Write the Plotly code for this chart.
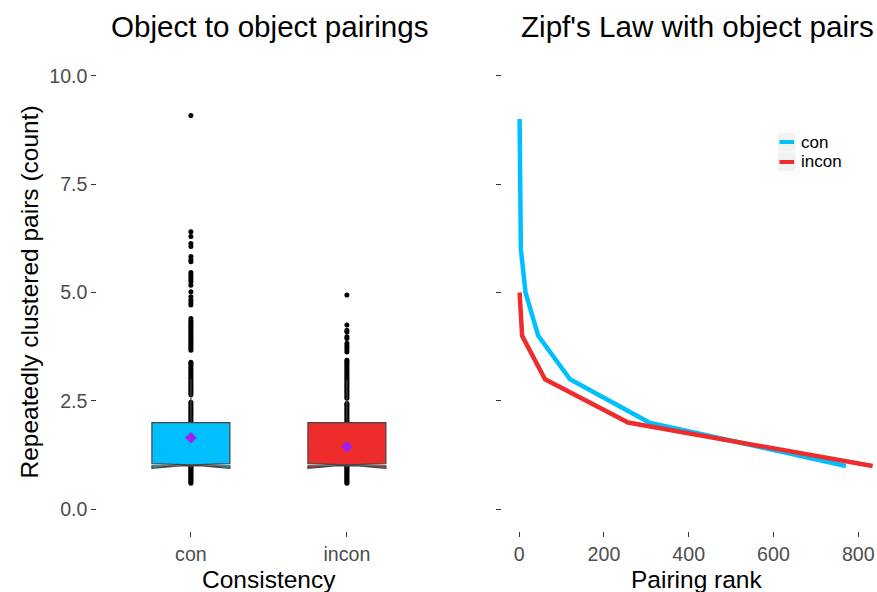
import plotly.graph_objects as go

# ---------------- data ----------------
categories = ["con", "incon"]
box_q1 = [1, 1]
box_median = [1, 1]
box_q3 = [2, 2]
box_lower = [1, 1]
box_upper = [3, 3]
box_notch = [0.055, 0.055]
group_means = [1.65, 1.44]

# jittered counts visible outside the boxes
con_points = [0.60, 0.63, 0.66, 0.69, 0.72, 0.75, 0.78, 0.81, 0.84, 0.87, 0.90, 0.93, 0.96, 0.99,
              2.03, 2.07, 2.11, 2.15, 2.19, 2.23, 2.27, 2.31, 2.35, 2.39, 2.43, 2.47,
              2.64, 2.68, 2.72, 2.76, 2.80, 2.84, 2.88, 2.92, 2.96, 3.00, 3.04, 3.08, 3.12,
              3.16, 3.20, 3.24, 3.28, 3.32, 3.36, 3.39,
              3.67, 3.71, 3.75, 3.79, 3.83, 3.87, 3.91, 3.95, 3.99, 4.03, 4.07, 4.11, 4.15,
              4.19, 4.23, 4.27, 4.31, 4.35, 4.40,
              4.71, 4.76, 4.82, 4.90, 5.02, 5.17, 5.25, 5.30, 5.35, 5.40, 5.46,
              5.71, 5.76, 5.83, 6.06, 6.13, 6.29, 6.40,
              9.08]
incon_points = [0.60, 0.63, 0.66, 0.69, 0.72, 0.75, 0.78, 0.81, 0.84, 0.87, 0.90, 0.93, 0.96, 0.99,
                2.02, 2.06, 2.10, 2.14, 2.18, 2.22, 2.26, 2.30, 2.34, 2.38, 2.42, 2.44,
                2.56, 2.60, 2.64, 2.68, 2.72, 2.76, 2.80, 2.84, 2.88, 2.92, 2.96, 3.00, 3.04,
                3.08, 3.12, 3.16, 3.20, 3.24, 3.28, 3.32, 3.36, 3.40, 3.44,
                3.63, 3.68, 3.73, 3.78, 3.83, 3.94, 3.98, 4.09, 4.13, 4.25,
                4.94]

# Zipf curves: pairing rank vs count
con_rank = [1, 4, 15, 45, 120, 307, 771]
con_count = [9, 6, 5, 4, 3, 2, 1]
incon_rank = [1, 7, 61, 257, 834]
incon_count = [5, 4, 3, 2, 1]

y_ticks = [0, 2.5, 5, 7.5, 10]
y_ticklabels = ["0.0", "2.5", "5.0", "7.5", "10.0"]
x2_ticks = [0, 200, 400, 600, 800]

colors = ["#00BFFF", "#EE2C2C"]
mean_color = "#A020F0"

# ---------------- layout helpers ----------------
W, H = 877, 592
T, B = 54, 61
PH = H - T - B
FONT = "Liberation Sans, Arial, sans-serif"


def fx(p):
    return p / W


def fy(p):
    return (H - B - p) / PH


fig = go.Figure()

# jittered points (underneath the boxes)
for i, pts in enumerate([con_points, incon_points]):
    fig.add_trace(go.Scatter(
        x=[i + 1] * len(pts), y=pts, mode="markers",
        marker=dict(color="black", size=5, line=dict(width=0)),
        xaxis="x", yaxis="y", showlegend=False, hoverinfo="skip"))

# boxes on an overlaying axis so they cover the points
for i, cat in enumerate(categories):
    fig.add_trace(go.Box(
        x=[i + 1], q1=[box_q1[i]], median=[box_median[i]], q3=[box_q3[i]],
        lowerfence=[box_lower[i]], upperfence=[box_upper[i]],
        notched=True, notchspan=[box_notch[i]], notchwidth=0.5,
        width=0.5, whiskerwidth=0, fillcolor=colors[i],
        line=dict(color="#444444", width=1.2), boxpoints=False,
        name=cat, xaxis="x", yaxis="y3", showlegend=False))

fig.add_trace(go.Scatter(
    x=[1, 2], y=group_means, mode="markers",
    marker=dict(symbol="diamond", color=mean_color, size=9, line=dict(width=0)),
    xaxis="x", yaxis="y3", showlegend=False, hoverinfo="skip"))

# Zipf lines
fig.add_trace(go.Scatter(x=con_rank, y=con_count, mode="lines",
                         line=dict(color=colors[0], width=4.5),
                         xaxis="x2", yaxis="y2", name="con", showlegend=False))
fig.add_trace(go.Scatter(x=incon_rank, y=incon_count, mode="lines",
                         line=dict(color=colors[1], width=4.5),
                         xaxis="x2", yaxis="y2", name="incon", showlegend=False))

axis_common = dict(showgrid=False, zeroline=False, showline=False,
                   ticks="outside", ticklen=5, tickwidth=1, tickcolor="#333333",
                   tickfont=dict(family=FONT, size=19.6, color="#4D4D4D"))

fig.update_layout(
    width=W, height=H,
    margin=dict(l=0, r=0, t=T, b=B, pad=0),
    paper_bgcolor="white", plot_bgcolor="white",
    font=dict(family=FONT, color="black"),
    xaxis=dict(domain=[fx(97.3), fx(440.5)], range=[0.4, 2.6],
               tickvals=[1, 2], ticktext=categories, anchor="y", **axis_common),
    yaxis=dict(domain=[0, 1], range=[-0.5, 10.5], tickvals=y_ticks,
               ticktext=y_ticklabels, anchor="x", **axis_common),
    yaxis3=dict(range=[-0.5, 10.5], overlaying="y", anchor="x", visible=False),
    xaxis2=dict(domain=[fx(501.7), 1], range=[-41.2, 844.3], tickvals=x2_ticks,
                anchor="y2", **axis_common),
    yaxis2=dict(domain=[0, 1], range=[-0.5, 10.5], tickvals=y_ticks,
                showticklabels=False, anchor="x2", **axis_common),
    showlegend=False,
)

# titles and axis titles
ann = [
    dict(text="Object to object pairings", x=fx(269), y=fy(26), size=29.6),
    dict(text="Zipf's Law with object pairs", x=fx(697), y=fy(26), size=29.6),
    dict(text="Consistency", x=fx(269), y=fy(579), size=24.5),
    dict(text="Pairing rank", x=fx(696), y=fy(579), size=24.5),
]
for a in ann:
    fig.add_annotation(text=a["text"], x=a["x"], y=a["y"], xref="paper", yref="paper",
                       xanchor="center", yanchor="middle", showarrow=False,
                       font=dict(family=FONT, size=a["size"], color="black"))
fig.add_annotation(text="Repeatedly clustered pairs (count)", x=fx(28.5), y=fy(292),
                   xref="paper", yref="paper", xanchor="center", yanchor="middle",
                   textangle=-90, showarrow=False,
                   font=dict(family=FONT, size=24.5, color="black"))

# legend (drawn manually, ggplot style)
legend_rows = [(142, colors[0], categories[0]), (162, colors[1], categories[1])]
for yc, col, lab in legend_rows:
    fig.add_shape(type="rect", xref="paper", yref="paper",
                  x0=fx(778), x1=fx(795.5), y0=fy(yc - 9.5), y1=fy(yc + 9.5),
                  fillcolor="#F2F2F2", line=dict(width=0), layer="below")
    fig.add_shape(type="line", xref="paper", yref="paper",
                  x0=fx(779.5), x1=fx(794), y0=fy(yc), y1=fy(yc),
                  line=dict(color=col, width=4))
    fig.add_annotation(text=lab, x=fx(799), y=fy(yc), xref="paper", yref="paper",
                       xanchor="left", yanchor="middle", showarrow=False,
                       font=dict(family=FONT, size=17, color="black"))

fig.write_html("out.html")
